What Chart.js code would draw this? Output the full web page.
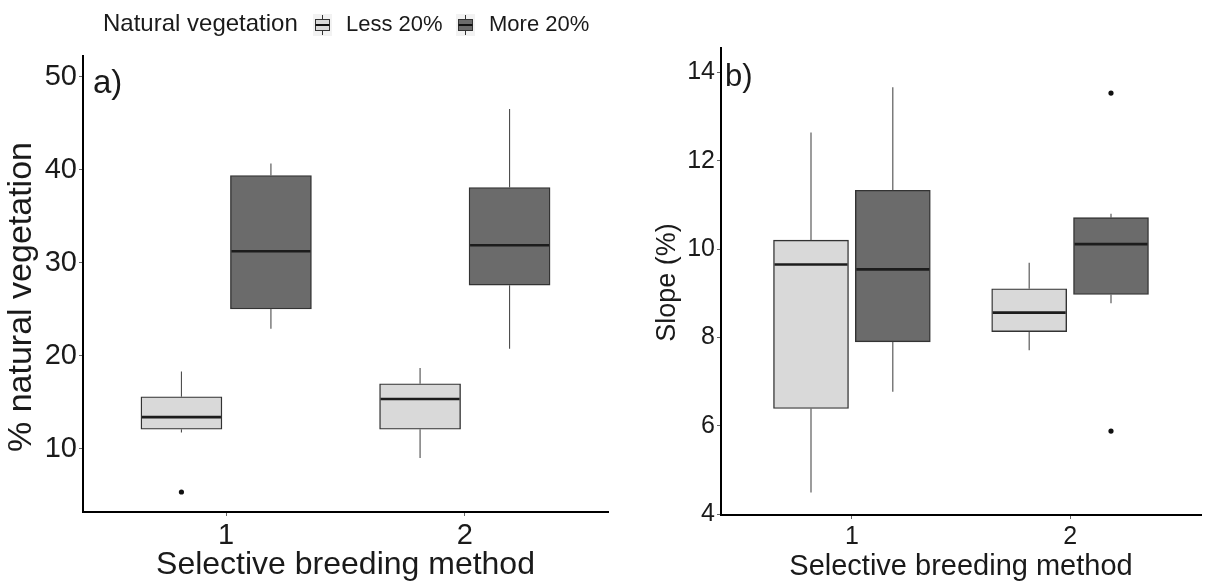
<!DOCTYPE html>
<html>
<head>
<meta charset="utf-8">
<script src="https://cdn.jsdelivr.net/npm/chart.js@4.4.1/dist/chart.umd.min.js"></script>
<style>
  body { margin: 0; background: #fff; font-family: "Liberation Sans", Arial, sans-serif; color: #1a1a1a; }
  #wrap { position: relative; width: 1205px; height: 584px; overflow: hidden; }
  #cA { position: absolute; left: 0; top: 0; }
  #cB { position: absolute; left: 612px; top: 0; }
  .lg { position: absolute; top: 9px; font-size: 22px; line-height: 30px; white-space: nowrap; }
  .key { position: absolute; top: 14px; }
</style>
</head>
<body>
<div id="wrap">
  <canvas id="cA" width="612" height="584"></canvas>
  <canvas id="cB" width="593" height="584"></canvas>
  <span class="lg" style="left:103px;font-size:24px;top:8px">Natural vegetation</span>
  <svg class="key" id="key0" style="left:313px" width="19" height="22"></svg>
  <span class="lg" style="left:346px">Less 20%</span>
  <svg class="key" id="key1" style="left:456px" width="19" height="22"></svg>
  <span class="lg" style="left:489px">More 20%</span>
</div>
<script>
// x categories (selective breeding method) and the two fill groups
const groups = [1, 2];
const xTicks = [1, 2];
const seriesNames = ["Less 20%", "More 20%"];
const fills = ["#d9d9d9", "#6b6b6b"];
const dodge = 0.1875;

// box stats per group: [lower whisker, Q1, median, Q3, upper whisker]
// a) % natural vegetation
const vegLess = [[11.75, 12.1, 13.4, 15.6, 18.3], [9.0, 12.1, 15.35, 17.0, 18.7]];
const vegMore = [[22.9, 25.05, 31.25, 39.4, 40.7], [20.75, 27.6, 31.9, 38.1, 46.55]];
const vegLessOut = [[5.35], []];
const vegMoreOut = [[], []];
const vegTicks = [10, 20, 30, 40, 50];

// b) slope (%)
const slopeLess = [[4.49, 6.39, 9.65, 10.2, 12.64], [7.71, 8.13, 8.56, 9.1, 9.69]];
const slopeMore = [[6.77, 7.9, 9.54, 11.33, 13.66], [8.77, 8.97, 10.11, 10.71, 10.8]];
const slopeLessOut = [[], []];
const slopeMoreOut = [[], [13.53, 5.88]];
const slopeTicks = [4, 6, 8, 10, 12, 14];

const FONT = "'Liberation Sans', Arial, sans-serif";
const INK = "#1a1a1a";

// legend keys
["key0", "key1"].forEach((id, s) => {
  document.getElementById(id).innerHTML =
    `<rect x="0" y="0" width="19" height="22" fill="#f2f2f2"/>` +
    `<line x1="9.5" y1="1" x2="9.5" y2="21" stroke="#333" stroke-width="1"/>` +
    `<rect x="2.5" y="5.5" width="14" height="11" fill="${fills[s]}" stroke="#333" stroke-width="1"/>` +
    `<line x1="2.5" y1="11" x2="16.5" y2="11" stroke="#111" stroke-width="2"/>`;
});

const boxParts = {
  id: "boxParts",
  afterDatasetsDraw(chart) {
    const ctx = chart.ctx;
    const y = chart.scales.y;
    chart.data.datasets.forEach((ds, i) => {
      if (!ds.stats) return;
      chart.getDatasetMeta(i).data.forEach((bar, j) => {
        const st = ds.stats[j];
        const { x, width } = bar.getProps(["x", "width"], true);
        ctx.save();
        ctx.strokeStyle = "#4d4d4d";
        ctx.lineWidth = 1.1;
        ctx.beginPath();
        ctx.moveTo(x, y.getPixelForValue(st[3]));
        ctx.lineTo(x, y.getPixelForValue(st[4]));
        ctx.moveTo(x, y.getPixelForValue(st[1]));
        ctx.lineTo(x, y.getPixelForValue(st[0]));
        ctx.stroke();
        ctx.strokeStyle = "#1c1c1c";
        ctx.lineWidth = 2.6;
        ctx.beginPath();
        const ym = y.getPixelForValue(st[2]);
        ctx.moveTo(x - width / 2 + 1, ym);
        ctx.lineTo(x + width / 2 - 1, ym);
        ctx.stroke();
        ctx.restore();
      });
    });
  }
};

// panel tag ("a)", "b)") and the rotated y title
const panelText = {
  id: "panelText",
  afterDraw(chart, args, opts) {
    const ctx = chart.ctx;
    const area = chart.chartArea;
    ctx.save();
    ctx.fillStyle = INK;
    ctx.textBaseline = "middle";
    ctx.font = `${opts.tagSize}px ${FONT}`;
    ctx.fillText(opts.tag, area.left + opts.tagDx, chart.scales.y.getPixelForValue(opts.tagAt) + opts.tagDy);
    ctx.font = `${opts.titleSize}px ${FONT}`;
    ctx.textAlign = "center";
    ctx.translate(opts.titleX, (area.top + area.bottom) / 2 + opts.titleDy);
    ctx.rotate(-Math.PI / 2);
    ctx.fillText(opts.title, 0, 0);
    ctx.restore();
  }
};

function boxDatasets(less, more, lessOut, moreOut, thickness) {
  const sets = [];
  [less, more].forEach((stats, s) => {
    sets.push({
      type: "bar",
      label: seriesNames[s],
      stats,
      data: stats.map((st, g) => ({ x: groups[g] + (s ? dodge : -dodge), y: [st[1], st[3]] })),
      backgroundColor: fills[s],
      borderColor: "#333",
      borderWidth: 1.4,
      borderSkipped: false,
      barThickness: thickness,
      grouped: false
    });
  });
  [lessOut, moreOut].forEach((outs, s) => {
    const pts = [];
    outs.forEach((vals, g) => vals.forEach(v => pts.push({ x: groups[g] + (s ? dodge : -dodge), y: v })));
    sets.push({ type: "scatter", data: pts, pointRadius: 2.6, backgroundColor: "#111", borderWidth: 0 });
  });
  return sets;
}

function makePanel(id, p) {
  return new Chart(document.getElementById(id), {
    type: "bar",
    data: { datasets: boxDatasets(p.less, p.more, p.lessOut, p.moreOut, p.thickness) },
    plugins: [boxParts, panelText],
    options: {
      responsive: false,
      animation: false,
      layout: { padding: { top: p.top, right: p.right, left: 0, bottom: 0 } },
      plugins: {
        legend: { display: false },
        tooltip: { enabled: false },
        panelText: p.text
      },
      scales: {
        x: {
          type: "linear", min: 0.4, max: 2.6, offset: false,
          afterBuildTicks: s => { s.ticks = xTicks.map(v => ({ value: v })); },
          afterFit: s => { s.height = p.xh; },
          grid: { drawOnChartArea: false, offset: false, tickLength: 4, tickColor: "#666" },
          border: { color: "#000", width: 2 },
          ticks: { font: { size: p.tickSize, family: FONT }, color: INK, padding: 3, maxRotation: 0 },
          title: { display: true, text: "Selective breeding method", font: { size: p.xTitleSize, family: FONT }, color: INK, padding: { top: 0, bottom: 0 } }
        },
        y: {
          min: p.ymin, max: p.ymax,
          afterBuildTicks: s => { s.ticks = p.yTicks.map(v => ({ value: v })); },
          afterFit: s => { s.width = p.yw; },
          grid: { drawOnChartArea: false, offset: false, tickLength: 4, tickColor: "#666" },
          border: { color: "#000", width: 2 },
          ticks: { font: { size: p.tickSize, family: FONT }, color: INK, padding: 2 }
        }
      }
    }
  });
}

makePanel("cA", {
  less: vegLess, more: vegMore, lessOut: vegLessOut, moreOut: vegMoreOut, yTicks: vegTicks,
  ymin: 3.2, ymax: 52.25, top: 56, right: 1, xh: 72, yw: 83, thickness: 81,
  tickSize: 29, xTitleSize: 32,
  text: { tag: "a)", tagAt: 50, tagDx: 10, tagDy: 7, tagSize: 33,
          title: "% natural vegetation", titleSize: 34, titleX: 22, titleDy: 13 }
});

makePanel("cB", {
  less: slopeLess, more: slopeMore, lessOut: slopeLessOut, moreOut: slopeMoreOut, yTicks: slopeTicks,
  ymin: 3.98, ymax: 14.55, top: 48, right: 0, xh: 69, yw: 109, thickness: 75,
  tickSize: 25, xTitleSize: 29,
  text: { tag: "b)", tagAt: 14, tagDx: 4, tagDy: 5, tagSize: 31,
          title: "Slope (%)", titleSize: 27, titleX: 56, titleDy: 1 }
});
</script>
</body>
</html>
